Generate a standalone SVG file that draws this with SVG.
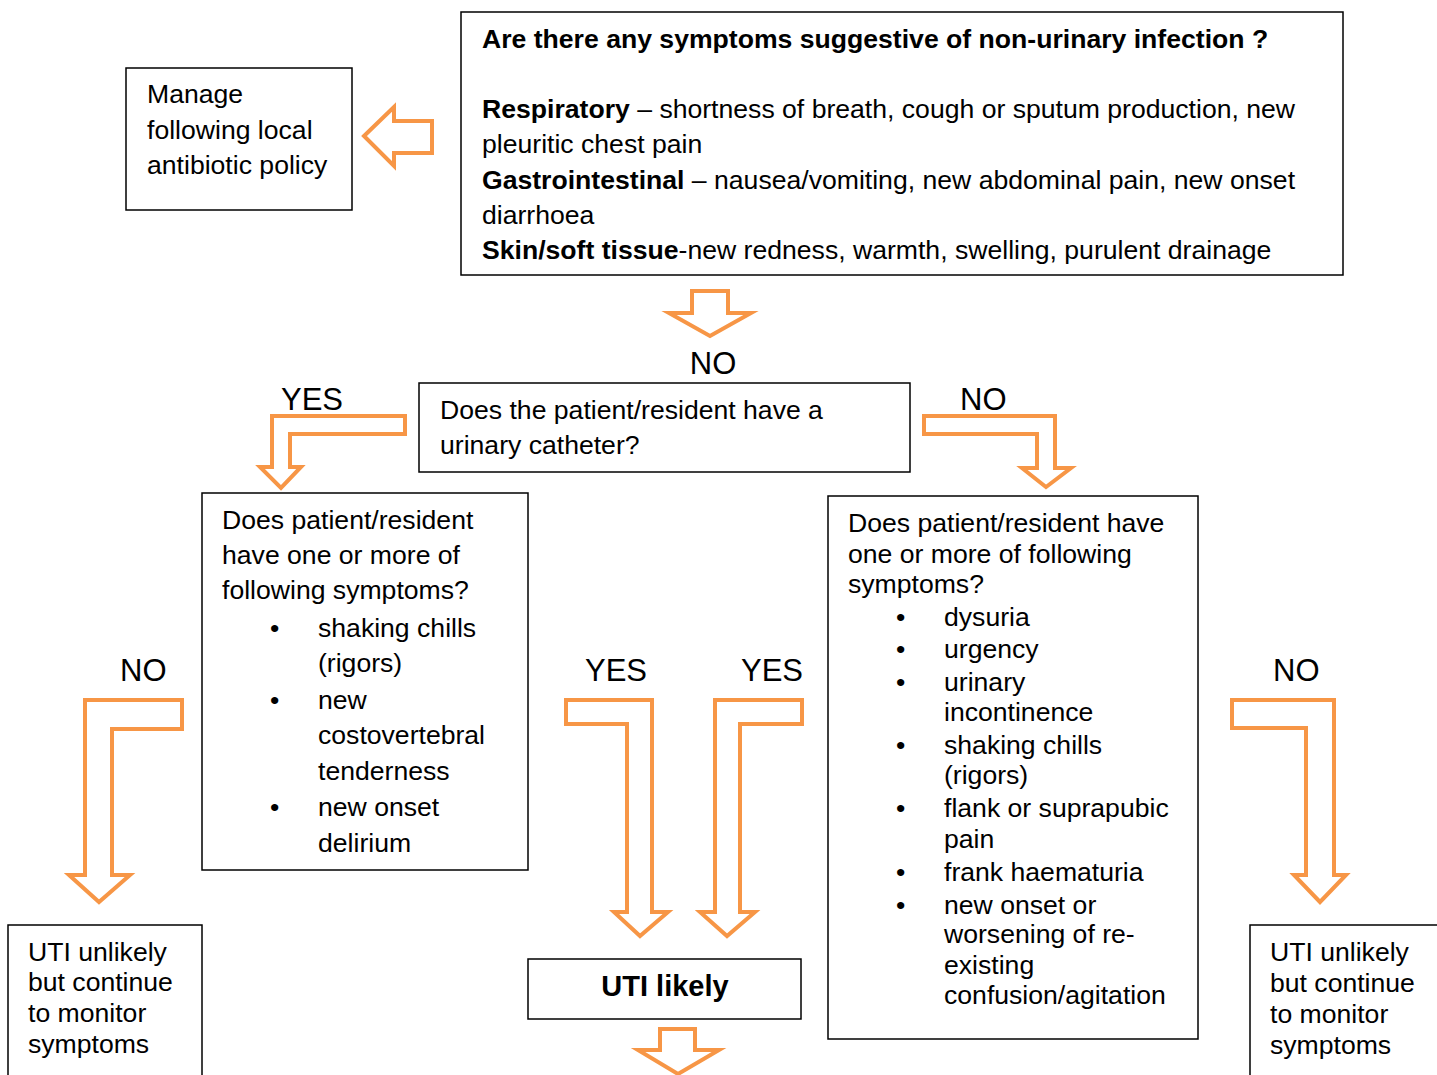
<svg xmlns="http://www.w3.org/2000/svg" width="1437" height="1075" viewBox="0 0 1437 1075">
<style>
.box{fill:#fff;stroke:#000;stroke-width:1.5}
.t{font-family:"Liberation Sans",Arial,sans-serif;font-size:26.6px;fill:#000}
.b{font-weight:bold}
.lbl{font-family:"Liberation Sans",Arial,sans-serif;font-size:31px;fill:#000}
.arr{fill:#fff;stroke:#F79646;stroke-width:4;stroke-linejoin:miter}
</style>
<rect width="1437" height="1075" fill="#fff"/>
<g id="connectors">
<polygon class="arr" points="364,136 394,107 394,121 432,121 432,153 394,153 394,166"/>
<polygon class="arr" points="692,291 728,291 728,313 751,313 710,336 669,313 692,313"/>
<polygon class="arr" points="405,416 272,416 272,467 260,467 281,488 301,467 290,467 290,434 405,434"/>
<polygon class="arr" points="924,416 1055,416 1055,468 1071,468 1046,487 1022,468 1037,468 1037,434 924,434"/>
<polygon class="arr" points="182,700 85,700 85,875 69,875 99,902 130,875 112,875 112,729 182,729"/>
<polygon class="arr" points="566,700 652,700 652,912 668,912 640,936 614,912 627,912 627,724 566,724"/>
<polygon class="arr" points="802,700 715,700 715,912 700,912 727,936 755,912 740,912 740,724 802,724"/>
<polygon class="arr" points="1232,700 1334,700 1334,875 1346,875 1320,902 1294,875 1306,875 1306,728 1232,728"/>
<polygon class="arr" points="660,1029 695,1029 695,1050 719,1050 678,1074 638,1050 660,1050"/>
<text class="lbl" x="713" y="374" text-anchor="middle">NO</text>
<text class="lbl" x="281" y="410">YES</text>
<text class="lbl" x="960" y="410">NO</text>
<text class="lbl" x="120" y="681">NO</text>
<text class="lbl" x="585" y="681">YES</text>
<text class="lbl" x="741" y="681">YES</text>
<text class="lbl" x="1273" y="681">NO</text>
</g>
<g id="q-nonurinary">
<rect class="box" x="461" y="12" width="882" height="263"/>
<text class="t b" x="482" y="48">Are there any symptoms suggestive of non-urinary infection ?</text>
<text class="t" x="482" y="118"><tspan class="b">Respiratory</tspan> – shortness of breath, cough or sputum production, new</text>
<text class="t" x="482" y="153">pleuritic chest pain</text>
<text class="t" x="482" y="189"><tspan class="b">Gastrointestinal</tspan> – nausea/vomiting, new abdominal pain, new onset</text>
<text class="t" x="482" y="224">diarrhoea</text>
<text class="t" x="482" y="259"><tspan class="b">Skin/soft tissue</tspan>-new redness, warmth, swelling, purulent drainage</text>
</g>
<g id="manage">
<rect class="box" x="126" y="68" width="226" height="142"/>
<text class="t" x="147" y="103">Manage</text>
<text class="t" x="147" y="139">following local</text>
<text class="t" x="147" y="174">antibiotic policy</text>
</g>
<g id="q-catheter">
<rect class="box" x="419" y="383" width="491" height="89"/>
<text class="t" x="440" y="419">Does the patient/resident have a</text>
<text class="t" x="440" y="454">urinary catheter?</text>
</g>
<g id="q-catheter-symptoms">
<rect class="box" x="202" y="493" width="326" height="377"/>
<text class="t" x="222" y="529">Does patient/resident</text>
<text class="t" x="222" y="564">have one or more of</text>
<text class="t" x="222" y="599">following symptoms?</text>
<text class="t" x="270" y="637">•</text>
<text class="t" x="318" y="637">shaking chills</text>
<text class="t" x="318" y="672">(rigors)</text>
<text class="t" x="270" y="709">•</text>
<text class="t" x="318" y="709">new</text>
<text class="t" x="318" y="744">costovertebral</text>
<text class="t" x="318" y="780">tenderness</text>
<text class="t" x="270" y="816">•</text>
<text class="t" x="318" y="816">new onset</text>
<text class="t" x="318" y="852">delirium</text>
</g>
<g id="q-nocatheter-symptoms">
<rect class="box" x="828" y="496" width="370" height="543"/>
<text class="t" x="848" y="532">Does patient/resident have</text>
<text class="t" x="848" y="563">one or more of following</text>
<text class="t" x="848" y="593">symptoms?</text>
<text class="t" x="896" y="626">•</text><text class="t" x="944" y="626">dysuria</text>
<text class="t" x="896" y="658">•</text><text class="t" x="944" y="658">urgency</text>
<text class="t" x="896" y="691">•</text><text class="t" x="944" y="691">urinary</text>
<text class="t" x="944" y="721">incontinence</text>
<text class="t" x="896" y="754">•</text><text class="t" x="944" y="754">shaking chills</text>
<text class="t" x="944" y="784">(rigors)</text>
<text class="t" x="896" y="817">•</text><text class="t" x="944" y="817">flank or suprapubic</text>
<text class="t" x="944" y="848">pain</text>
<text class="t" x="896" y="881">•</text><text class="t" x="944" y="881">frank haematuria</text>
<text class="t" x="896" y="914">•</text><text class="t" x="944" y="914">new onset or</text>
<text class="t" x="944" y="943">worsening of re-</text>
<text class="t" x="944" y="974">existing</text>
<text class="t" x="944" y="1004">confusion/agitation</text>
</g>
<g id="uti-likely">
<rect class="box" x="528" y="959" width="273" height="60"/>
<text class="t b" x="665" y="996" text-anchor="middle" style="font-size:29px">UTI likely</text>
</g>
<g id="uti-unlikely-left">
<rect class="box" x="8" y="925" width="194" height="160"/>
<text class="t" x="28" y="961">UTI unlikely</text>
<text class="t" x="28" y="991">but continue</text>
<text class="t" x="28" y="1022">to monitor</text>
<text class="t" x="28" y="1053">symptoms</text>
</g>
<g id="uti-unlikely-right">
<rect class="box" x="1250" y="925" width="200" height="160"/>
<text class="t" x="1270" y="961">UTI unlikely</text>
<text class="t" x="1270" y="992">but continue</text>
<text class="t" x="1270" y="1023">to monitor</text>
<text class="t" x="1270" y="1054">symptoms</text>
</g>
</svg>
